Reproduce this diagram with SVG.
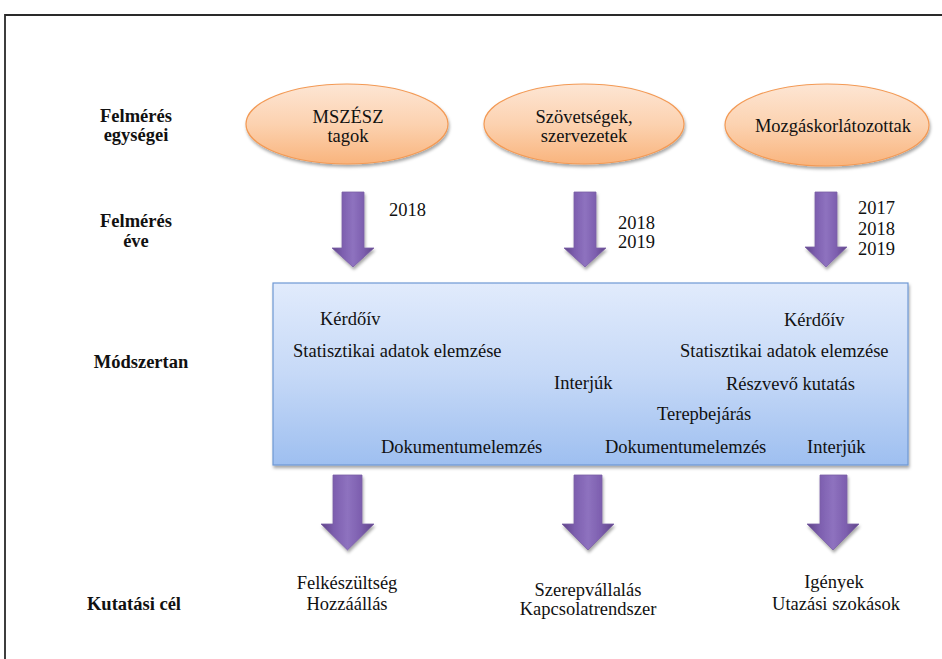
<svg xmlns="http://www.w3.org/2000/svg" width="942" height="659" viewBox="0 0 942 659">
  <style>
    text { font-family: 'Liberation Serif', 'DejaVu Serif', serif; font-size: 18.5px; fill: #111; }
    .lbl { font-weight: bold; text-anchor: middle; }
    .mid { text-anchor: middle; }
    .oval { fill: url(#ovalFill); stroke: #f39a55; stroke-width: 1.2; filter: url(#shadow); }
    .arrow { fill: url(#arrowFill); stroke: #7b5fa6; stroke-width: 0.8; filter: url(#shadow); }
    .frame { fill: none; stroke: #2a2a2a; stroke-width: 1.8; }
  </style>
  <defs>
    <linearGradient id="ovalFill" x1="0" y1="0" x2="0" y2="1">
      <stop offset="0" stop-color="#fde6d4"/>
      <stop offset="0.5" stop-color="#fcd2b0"/>
      <stop offset="1" stop-color="#f9b47d"/>
    </linearGradient>
    <linearGradient id="boxFill" x1="0" y1="0" x2="0" y2="1">
      <stop offset="0" stop-color="#e1ebfc"/>
      <stop offset="0.5" stop-color="#c6d9f7"/>
      <stop offset="1" stop-color="#9ebff0"/>
    </linearGradient>
    <linearGradient id="arrowFill" x1="0" y1="0" x2="1" y2="0">
      <stop offset="0" stop-color="#5f4488"/>
      <stop offset="0.25" stop-color="#7d5faf"/>
      <stop offset="0.5" stop-color="#8e72bf"/>
      <stop offset="0.75" stop-color="#7d5faf"/>
      <stop offset="1" stop-color="#5f4488"/>
    </linearGradient>
    <filter id="shadow" x="-20%" y="-20%" width="140%" height="150%">
      <feDropShadow dx="1" dy="2.5" stdDeviation="1.5" flood-color="#000" flood-opacity="0.35"/>
    </filter>
  </defs>

  <!-- page frame -->
  <path class="frame" d="M5,659 V15 H942"/>

  <g font-family="Liberation Serif, serif">
  <!-- row labels -->
  <g id="label-units">
    <text class="lbl" x="136" y="122">Felmérés</text>
    <text class="lbl" x="136" y="141">egységei</text>
  </g>
  <g id="label-year">
    <text class="lbl" x="136" y="227">Felmérés</text>
    <text class="lbl" x="136" y="247">éve</text>
  </g>
  <g id="label-method">
    <text class="lbl" x="141" y="368">Módszertan</text>
  </g>
  <g id="label-goal">
    <text class="lbl" x="134" y="610">Kutatási cél</text>
  </g>

  <!-- survey units -->
  <g id="unit-mszesz">
    <ellipse class="oval" cx="347" cy="124" rx="101" ry="40"/>
    <text class="mid" x="348" y="123">MSZÉSZ</text>
    <text class="mid" x="348" y="142">tagok</text>
  </g>
  <g id="unit-szovetsegek">
    <ellipse class="oval" cx="584" cy="124" rx="100" ry="40"/>
    <text class="mid" x="584" y="123">Szövetségek,</text>
    <text class="mid" x="584" y="142">szervezetek</text>
  </g>
  <g id="unit-mozgaskorlatozottak">
    <ellipse class="oval" cx="827" cy="125" rx="102" ry="41"/>
    <text class="mid" x="833" y="132">Mozgáskorlátozottak</text>
  </g>

  <!-- survey years -->
  <g id="years-1">
    <text x="389" y="216">2018</text>
  </g>
  <g id="years-2">
    <text x="618" y="229">2018</text>
    <text x="618" y="248">2019</text>
  </g>
  <g id="years-3">
    <text x="858" y="214">2017</text>
    <text x="858" y="235">2018</text>
    <text x="858" y="255">2019</text>
  </g>

  <!-- methodology box -->
  <g id="methods">
    <rect x="273" y="283" width="635" height="182" fill="url(#boxFill)" stroke="#6f98d4" stroke-width="1.2" filter="url(#shadow)"/>
    <text x="320" y="325">Kérdőív</text>
    <text x="293" y="357">Statisztikai adatok elemzése</text>
    <text x="554" y="389">Interjúk</text>
    <text x="381" y="453">Dokumentumelemzés</text>
    <text x="605" y="453">Dokumentumelemzés</text>
    <text x="784" y="326">Kérdőív</text>
    <text x="680" y="357">Statisztikai adatok elemzése</text>
    <text x="726" y="390">Részvevő kutatás</text>
    <text x="657" y="420">Terepbejárás</text>
    <text x="807" y="453">Interjúk</text>
  </g>

  <!-- research goals -->
  <g id="goal-1">
    <text class="mid" x="347" y="589">Felkészültség</text>
    <text class="mid" x="347" y="610">Hozzáállás</text>
  </g>
  <g id="goal-2">
    <text class="mid" x="588" y="596">Szerepvállalás</text>
    <text class="mid" x="588" y="615">Kapcsolatrendszer</text>
  </g>
  <g id="goal-3">
    <text class="mid" x="834" y="588">Igények</text>
    <text class="mid" x="836" y="610">Utazási szokások</text>
  </g>
  </g>

  <!-- block arrows -->
  <g id="connectors">
    <path class="arrow" d="M342,192 H364 V248 H374 L353,267 L332,248 H342 Z"/>
    <path class="arrow" d="M574,192 H596 V248 H606 L585,267 L564,248 H574 Z"/>
    <path class="arrow" d="M815,192 H837 V247 H847 L826,267 L805,247 H815 Z"/>
    <path class="arrow" d="M333,475 H362 V524 H374 L347.5,550 L321,524 H333 Z"/>
    <path class="arrow" d="M574,475 H602 V524 H614 L588,550 L562,524 H574 Z"/>
    <path class="arrow" d="M820,475 H847 V524 H859 L833,550 L807,524 H820 Z"/>
  </g>
</svg>
